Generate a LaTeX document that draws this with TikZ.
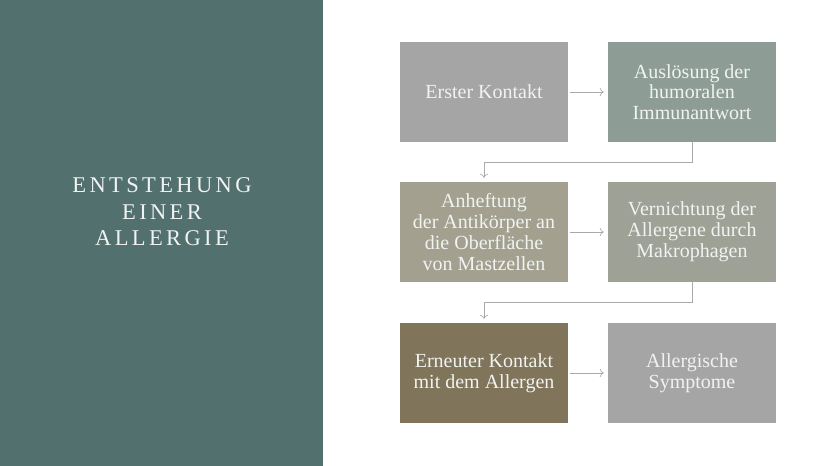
\documentclass[tikz,border=0pt]{standalone}
\usepackage{fontspec}
\setmainfont{Liberation Serif}
\newfontfamily\titlefont[LetterSpace=15]{Liberation Serif}
\usetikzlibrary{arrows.meta}

\definecolor{panelteal}{RGB}{82,112,110}
\definecolor{firstgray}{RGB}{165,165,165}
\definecolor{sagegreen}{RGB}{141,157,149}
\definecolor{sandgray}{RGB}{163,160,144}
\definecolor{olivegray}{RGB}{158,161,149}
\definecolor{umber}{RGB}{128,117,90}
\definecolor{linegray}{RGB}{170,170,170}
\definecolor{paletext}{RGB}{240,243,241}

\begin{document}
\begin{tikzpicture}[x=1pt, y=-1pt,
  box/.style={minimum width=168pt, minimum height=100pt,
    align=center, inner sep=0pt, text=paletext,
    font=\fontsize{20}{20.8}\selectfont},
  link/.style={draw=linegray, line width=0.7pt, -{To[length=4pt, width=8pt]}}]

\useasboundingbox (0,0) rectangle (828,466);
\fill[panelteal] (0,0) rectangle (323,466);

\node[text=paletext, align=center, font=\titlefont\fontsize{22.5}{26.5}\selectfont]
  (title) at (162,212) {ENTSTEHUNG\\EINER\\ALLERGIE};

% Erstkontakt
\node[box, fill=firstgray] (erster) at (484,92) {Erster Kontakt};
\node[box, fill=sagegreen] (ausloesung) at (692,92) {Auslösung der\\humoralen\\Immunantwort};

% Sensibilisierung
\node[box, fill=sandgray] (anheftung) at (484,232) {Anheftung\\der Antikörper an\\die Oberfläche\\von Mastzellen};
\node[box, fill=olivegray] (vernichtung) at (692,232) {Vernichtung der\\Allergene durch\\Makrophagen};

% Reaktion
\node[box, fill=umber] (erneut) at (484,373) {Erneuter Kontakt\\mit dem Allergen};
\node[box, fill=firstgray] (symptome) at (692,373) {Allergische\\Symptome};

\draw[link, shorten <=2pt, shorten >=4pt] (erster) -- (ausloesung);
\draw[link, shorten >=4pt] (ausloesung.south) -- ++(0,20) -| (anheftung.north);
\draw[link, shorten <=2pt, shorten >=4pt] (anheftung) -- (vernichtung);
\draw[link, shorten >=4pt] (vernichtung.south) -- ++(0,20) -| (erneut.north);
\draw[link, shorten <=2pt, shorten >=4pt] (erneut) -- (symptome);

\end{tikzpicture}
\end{document}
